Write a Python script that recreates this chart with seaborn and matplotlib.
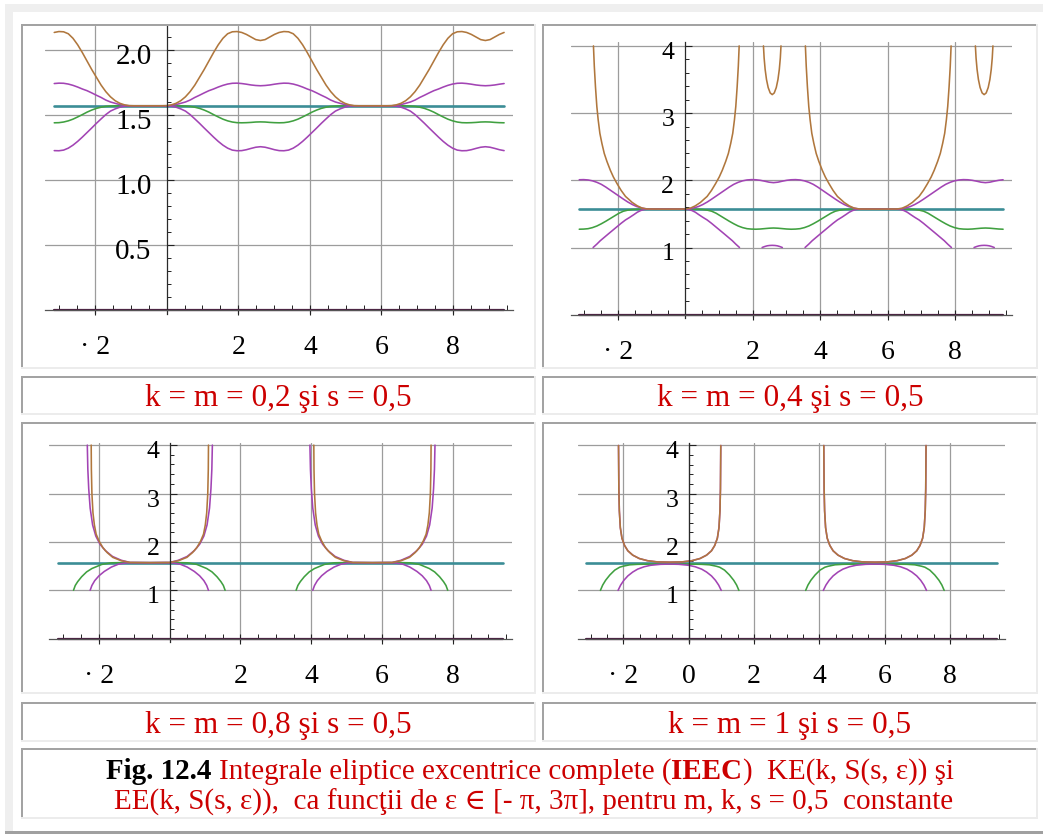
import numpy as np
import pandas as pd
import matplotlib
matplotlib.use("Agg")
import matplotlib.pyplot as plt
import seaborn as sns
from matplotlib.patches import Rectangle
from matplotlib.ticker import FixedLocator, MultipleLocator, NullFormatter
from matplotlib.transforms import ScaledTranslation

PI = np.pi
HALF_PI = PI / 2

# eps samples over one period [-pi, pi), step pi/24 (smooth curves)
EPS_GRID = -PI + np.arange(48) * PI / 24
LEVEL_X = [-PI, 3 * PI]

# ---------------- k = m = 0.2 ----------------
brown_02 = [2.135, 2.142, 2.14, 2.125, 2.09, 2.04, 1.98, 1.915, 1.85, 1.79,
            1.73, 1.68, 1.64, 1.61, 1.59, 1.578, 1.572, 1.571, 1.571, 1.571,
            1.571, 1.571, 1.571, 1.571, 1.572, 1.578, 1.59, 1.61, 1.64, 1.68,
            1.73, 1.79, 1.85, 1.915, 1.98, 2.04, 2.09, 2.125, 2.14, 2.142,
            2.135, 2.12, 2.10, 2.08, 2.073, 2.08, 2.10, 2.12]
violet_hi_02 = [1.742, 1.745, 1.744, 1.738, 1.728, 1.715, 1.70, 1.687, 1.67, 1.652,
                1.635, 1.615, 1.60, 1.59, 1.58, 1.574, 1.571, 1.571, 1.571, 1.571,
                1.571, 1.571, 1.571, 1.571, 1.571, 1.574, 1.58, 1.59, 1.60, 1.615,
                1.635, 1.652, 1.67, 1.687, 1.70, 1.715, 1.728, 1.738, 1.744, 1.745,
                1.742, 1.737, 1.731, 1.727, 1.725, 1.727, 1.731, 1.737]
green_02 = [1.44, 1.441, 1.446, 1.455, 1.468, 1.485, 1.503, 1.522, 1.538, 1.551,
            1.56, 1.566, 1.569, 1.571, 1.571, 1.571, 1.571, 1.571, 1.571, 1.571,
            1.571, 1.571, 1.571, 1.571, 1.571, 1.571, 1.571, 1.571, 1.569, 1.566,
            1.56, 1.551, 1.538, 1.522, 1.503, 1.485, 1.468, 1.455, 1.446, 1.441,
            1.44, 1.441, 1.443, 1.446, 1.447, 1.446, 1.443, 1.441]
violet_lo_02 = [1.226, 1.225, 1.23, 1.245, 1.268, 1.297, 1.33, 1.365, 1.40, 1.436,
                1.47, 1.503, 1.53, 1.547, 1.56, 1.568, 1.571, 1.571, 1.571, 1.571,
                1.571, 1.571, 1.571, 1.571, 1.571, 1.568, 1.56, 1.547, 1.53, 1.503,
                1.47, 1.436, 1.40, 1.365, 1.33, 1.297, 1.268, 1.245, 1.23, 1.225,
                1.226, 1.233, 1.243, 1.252, 1.256, 1.252, 1.243, 1.233]

# ---------------- k = m = 0.4 ----------------
brown_04_x = [[-2.72, -2.695, -2.66, -2.62, -2.58, -2.53, -2.47, -2.40, -2.32, -2.22,
               -2.13, -2.02, -1.90, -1.77, -1.68, -1.57, -1.42, -1.27, -1.12, -0.56,
               0.0, 0.15, 0.30, 0.45, 0.56, 0.65, 0.78, 0.90, 1.01, 1.10,
               1.20, 1.28, 1.35, 1.41, 1.46, 1.50, 1.54, 1.575, 1.60],
              [2.32, 2.34, 2.37, 2.41, 2.46, 2.52, 2.58, 2.64, 2.70, 2.75, 2.79, 2.82, 2.84]]
brown_04_y = [[4.0, 3.7, 3.39, 3.1, 2.9, 2.7, 2.55, 2.4, 2.28, 2.15,
               2.05, 1.95, 1.85, 1.76, 1.72, 1.67, 1.62, 1.585, 1.573, 1.571,
               1.573, 1.585, 1.62, 1.67, 1.72, 1.76, 1.85, 1.95, 2.05, 2.15,
               2.28, 2.4, 2.55, 2.7, 2.9, 3.1, 3.39, 3.7, 4.0],
              [4.0, 3.82, 3.65, 3.5, 3.38, 3.30, 3.275, 3.30, 3.38, 3.5, 3.65, 3.82, 4.0]]
violet_hi_04 = [2.008, 2.01, 2.005, 1.992, 1.97, 1.94, 1.90, 1.855, 1.81, 1.765,
                1.72, 1.677, 1.64, 1.61, 1.59, 1.577, 1.571, 1.571, 1.571, 1.571,
                1.571, 1.571, 1.571, 1.571, 1.571, 1.577, 1.59, 1.61, 1.64, 1.677,
                1.72, 1.765, 1.81, 1.855, 1.90, 1.94, 1.97, 1.992, 2.005, 2.01,
                2.008, 2.0, 1.987, 1.972, 1.965, 1.972, 1.987, 2.0]
green_04 = [1.272, 1.274, 1.28, 1.296, 1.32, 1.353, 1.39, 1.43, 1.47, 1.51,
            1.54, 1.556, 1.565, 1.569, 1.571, 1.571, 1.571, 1.571, 1.571, 1.571,
            1.571, 1.571, 1.571, 1.571, 1.571, 1.571, 1.571, 1.569, 1.565, 1.556,
            1.54, 1.51, 1.47, 1.43, 1.39, 1.353, 1.32, 1.296, 1.28, 1.274,
            1.272, 1.275, 1.281, 1.287, 1.29, 1.287, 1.281, 1.275]
violet_lo_04_x = [[-2.73, -2.62, -2.52, -2.39, -2.26, -2.14, -2.02, -1.90, -1.77, -1.64,
                   -1.52, -1.42, -1.32, -1.22, -1.12, -0.56, 0.0, 0.1, 0.2, 0.3,
                   0.4, 0.52, 0.65, 0.78, 0.9, 1.02, 1.14, 1.27, 1.4, 1.5, 1.61],
                  [2.28, 2.36, 2.43, 2.50, 2.58, 2.66, 2.73, 2.80, 2.88]]
violet_lo_04_y = [[1.0, 1.05, 1.10, 1.155, 1.21, 1.26, 1.31, 1.36, 1.41, 1.45,
                   1.49, 1.525, 1.55, 1.566, 1.571, 1.571, 1.571, 1.566, 1.55, 1.525,
                   1.49, 1.45, 1.41, 1.36, 1.31, 1.26, 1.21, 1.155, 1.10, 1.05, 1.0],
                  [1.0, 1.015, 1.025, 1.03, 1.032, 1.03, 1.025, 1.015, 1.0]]

# ---------------- k = m = 0.8 ----------------
brown_08_x = [[-2.21, -2.205, -2.19, -2.16, -2.12, -2.07, -1.99, -1.88, -1.76, -1.60, -1.36, -1.11,
               -0.555, 0.0, 0.25, 0.49, 0.65, 0.77, 0.88, 0.96, 1.01, 1.05, 1.08, 1.095, 1.10]]
brown_08_y = [[4.0, 3.5, 3.0, 2.6, 2.35, 2.16, 2.02, 1.88, 1.78, 1.68, 1.61, 1.575,
               1.571, 1.575, 1.61, 1.68, 1.78, 1.88, 2.02, 2.16, 2.35, 2.6, 3.0, 3.5, 4.0]]
violet_hi_08_x = [[-2.32, -2.305, -2.28, -2.24, -2.17, -2.08, -1.96, -1.81, -1.61, -1.36, -1.11,
                   -0.555, 0.0, 0.25, 0.5, 0.7, 0.85, 0.97, 1.06, 1.13, 1.17, 1.195, 1.21]]
violet_hi_08_y = [[4.0, 3.5, 3.1, 2.7, 2.35, 2.12, 1.95, 1.82, 1.70, 1.62, 1.575,
                   1.571, 1.575, 1.62, 1.70, 1.82, 1.95, 2.12, 2.35, 2.7, 3.1, 3.5, 4.0]]
green_08_x = [[-2.71, -2.66, -2.59, -2.48, -2.34, -2.19, -1.91, -1.64, -1.44, -0.57,
               0.3, 0.5, 0.77, 1.05, 1.2, 1.34, 1.45, 1.52, 1.57]]
green_08_y = [[1.0, 1.10, 1.18, 1.28, 1.38, 1.45, 1.535, 1.568, 1.571, 1.571,
               1.571, 1.568, 1.535, 1.45, 1.38, 1.28, 1.18, 1.10, 1.0]]
violet_lo_08_x = [[-2.24, -2.19, -2.11, -1.99, -1.84, -1.64, -1.44, -1.24, -1.04, -0.57,
                   -0.1, 0.1, 0.3, 0.5, 0.7, 0.85, 0.97, 1.05, 1.10]]
violet_lo_08_y = [[1.0, 1.1, 1.2, 1.30, 1.39, 1.48, 1.54, 1.565, 1.571, 1.571,
                   1.571, 1.565, 1.54, 1.48, 1.39, 1.30, 1.2, 1.1, 1.0]]

# ---------------- k = m = 1 ----------------
brown_10_x = [[-2.145, -2.135, -2.12, -2.09, -2.04, -1.96, -1.86, -1.71, -1.51, -1.26, -0.96, -0.58,
               -0.2, 0.1, 0.35, 0.55, 0.7, 0.8, 0.88, 0.93, 0.96, 0.975, 0.985]]
brown_10_y = [[4.0, 3.1, 2.65, 2.3, 2.08, 1.93, 1.82, 1.73, 1.66, 1.615, 1.59, 1.585,
               1.59, 1.615, 1.66, 1.73, 1.82, 1.93, 2.08, 2.3, 2.65, 3.1, 4.0]]
green_10_x = [[-2.70, -2.63, -2.54, -2.41, -2.26, -2.11, -2.01, -1.80, -1.56, -1.16, -0.58,
               0.0, 0.4, 0.64, 0.85, 0.95, 1.1, 1.25, 1.38, 1.47, 1.54]]
green_10_y = [[1.0, 1.11, 1.21, 1.32, 1.42, 1.48, 1.50, 1.53, 1.54, 1.545, 1.545,
               1.545, 1.54, 1.53, 1.50, 1.48, 1.42, 1.32, 1.21, 1.11, 1.0]]
violet_lo_10_x = [[-2.16, -2.08, -1.98, -1.86, -1.71, -1.56, -1.36, -1.16, -0.86, -0.58,
                   -0.3, 0.0, 0.2, 0.4, 0.55, 0.7, 0.82, 0.92, 1.0]]
violet_lo_10_y = [[1.0, 1.11, 1.21, 1.30, 1.38, 1.44, 1.49, 1.52, 1.54, 1.545,
                   1.54, 1.52, 1.49, 1.44, 1.38, 1.30, 1.21, 1.11, 1.0]]

captions = ["k = m = 0,2 şi s = 0,5", "k = m = 0,4 şi s = 0,5",
            "k = m = 0,8 şi s = 0,5", "k = m = 1 şi s = 0,5"]
x_ticks = [-2, 2, 4, 6, 8]
x_tick_text = ["· 2", "2", "4", "6", "8"]
x_ticks_b = [-2, 0, 2, 4, 6, 8]
x_tick_text_b = ["· 2", "0", "2", "4", "6", "8"]
y_ticks_a = [0.5, 1.0, 1.5, 2.0]
y_tick_text_a = ["0.5", "1.0", "1.5", "2.0"]
y_ticks_b = [1, 2, 3, 4]
y_tick_text_b = ["1", "2", "3", "4"]

BROWN = "#b0773d"
VIOLET = "#a244b4"
GREEN = "#40a040"
TEAL = "#3b8d96"
DARK = "#4a2041"
RED = "#cc0000"
SERIF = ["Liberation Serif", "DejaVu Serif"]

W, H = 1043, 834


def closed_curve(vals):
    v = np.asarray(vals, float)
    x = np.concatenate([EPS_GRID, EPS_GRID + 2 * PI, [3 * PI]])
    y = np.concatenate([v, v, v[:1]])
    return pd.DataFrame({"eps": x, "val": y, "seg": 0})


def open_curve(xs_list, ys_list):
    frames, seg = [], 0
    for period in range(2):
        for xs, ys in zip(xs_list, ys_list):
            frames.append(pd.DataFrame({"eps": np.asarray(xs) + 2 * PI * period,
                                        "val": ys, "seg": seg}))
            seg += 1
    return pd.concat(frames, ignore_index=True)


def level(value):
    return pd.DataFrame({"eps": LEVEL_X, "val": [value, value], "seg": 0})


sns.set_style("white")
plt.rcParams["font.family"] = SERIF

fig = plt.figure(figsize=(W / 100, H / 100), dpi=100)
fig.patch.set_facecolor("white")


def px_rect(x0, y0, x1, y1, color):
    fig.add_artist(Rectangle((x0 / W, 1 - y1 / H), (x1 - x0) / W, (y1 - y0) / H,
                             transform=fig.transFigure, facecolor=color,
                             edgecolor="none", zorder=1))


def cell(x0, y0, x1, y1):
    px_rect(x0, y0, x1, y0 + 2, "#a3a3a3")
    px_rect(x0, y0, x0 + 2, y1, "#a3a3a3")
    px_rect(x0, y1 - 2, x1, y1, "#ececec")
    px_rect(x1 - 2, y0, x1, y1, "#ececec")


# page background bands and table cells
px_rect(5, 4, W, 12, "#efefef")
px_rect(5, 4, 13, 831, "#efefef")
px_rect(5, 831, W, H, "#a0a0a0")
for (x0, x1) in [(21, 536), (542, 1038)]:
    cell(x0, 24, x1, 369)
    cell(x0, 376, x1, 415)
    cell(x0, 422, x1, 694)
    cell(x0, 702, x1, 742)
cell(21, 748, 1038, 819)

XLIM = (-3.40, 9.68)

panels = [
    dict(x0px=166.7, unit=35.8, y0px=310.0, yunit=130.0, ylim=(-0.03, 2.185),
         yt=y_ticks_a, ytt=y_tick_text_a, yminor=0.1, ysize=21, ygap=15,
         xt=x_ticks, xtt=x_tick_text,
         curves=[(level(HALF_PI), TEAL, 1.9),
                 (closed_curve(green_02), GREEN, 1.15),
                 (closed_curve(violet_lo_02), VIOLET, 1.15),
                 (closed_curve(violet_hi_02), VIOLET, 1.15),
                 (closed_curve(brown_02), BROWN, 1.15),
                 (level(0.0), DARK, 1.6)]),
    dict(x0px=685.2, unit=33.73, y0px=314.7, yunit=67.2, ylim=(-0.05, 4.06),
         yt=y_ticks_b, ytt=y_tick_text_b, yminor=0.2, ysize=18.5, ygap=11,
         xt=x_ticks, xtt=x_tick_text,
         curves=[(level(HALF_PI), TEAL, 1.9),
                 (closed_curve(green_04), GREEN, 1.15),
                 (open_curve(violet_lo_04_x, violet_lo_04_y), VIOLET, 1.15),
                 (closed_curve(violet_hi_04), VIOLET, 1.15),
                 (open_curve(brown_04_x, brown_04_y), BROWN, 1.15),
                 (level(0.0), DARK, 1.6)]),
    dict(x0px=169.5, unit=35.43, y0px=638.7, yunit=48.4, ylim=(-0.06, 4.05),
         yt=y_ticks_b, ytt=y_tick_text_b, yminor=0.2, ysize=18.5, ygap=10,
         xt=x_ticks, xtt=x_tick_text,
         curves=[(level(HALF_PI), TEAL, 1.9),
                 (open_curve(green_08_x, green_08_y), GREEN, 1.15),
                 (open_curve(violet_lo_08_x, violet_lo_08_y), VIOLET, 1.15),
                 (open_curve(violet_hi_08_x, violet_hi_08_y), VIOLET, 1.15),
                 (open_curve(brown_08_x, brown_08_y), BROWN, 1.15),
                 (level(0.0), DARK, 1.6)]),
    dict(x0px=688.6, unit=32.67, y0px=638.7, yunit=48.3, ylim=(-0.06, 4.05),
         yt=y_ticks_b, ytt=y_tick_text_b, yminor=0.2, ysize=18.5, ygap=10,
         xt=x_ticks_b, xtt=x_tick_text_b,
         curves=[(level(HALF_PI), TEAL, 1.9),
                 (open_curve(green_10_x, green_10_y), GREEN, 1.15),
                 (open_curve(violet_lo_10_x, violet_lo_10_y), VIOLET, 1.15),
                 (open_curve(brown_10_x, brown_10_y), VIOLET, 1.15),
                 (open_curve(brown_10_x, brown_10_y), BROWN, 1.15),
                 (level(0.0), DARK, 1.6)]),
]

for p in panels:
    left = p["x0px"] + XLIM[0] * p["unit"]
    right = p["x0px"] + XLIM[1] * p["unit"]
    top = p["y0px"] - p["ylim"][1] * p["yunit"]
    bottom = p["y0px"] - p["ylim"][0] * p["yunit"]
    ax = fig.add_axes([left / W, 1 - bottom / H, (right - left) / W, (bottom - top) / H])
    ax.set_facecolor("none")

    for df, color, lw in p["curves"]:
        sns.lineplot(data=df, x="eps", y="val", units="seg", estimator=None, sort=False,
                     color=color, linewidth=lw, ax=ax, legend=False)

    ax.set_xlim(*XLIM)
    ax.set_ylim(*p["ylim"])
    ax.set_xlabel("")
    ax.set_ylabel("")

    for side in ("top", "right"):
        ax.spines[side].set_visible(False)
    ax.spines["left"].set_position(("data", 0))
    ax.spines["bottom"].set_position(("data", 0))
    ax.spines["left"].set_color("#2a2a2a")
    ax.spines["bottom"].set_color("#555555")
    ax.spines["left"].set_linewidth(0.9)
    ax.spines["bottom"].set_linewidth(0.9)

    ax.xaxis.set_major_locator(FixedLocator(p["xt"]))
    ax.xaxis.set_minor_locator(MultipleLocator(0.5))
    ax.yaxis.set_major_locator(FixedLocator(p["yt"]))
    ax.yaxis.set_minor_locator(MultipleLocator(p["yminor"]))
    ax.xaxis.set_major_formatter(NullFormatter())
    ax.yaxis.set_major_formatter(NullFormatter())
    ax.tick_params(axis="x", which="major", direction="inout", length=7, width=0.8,
                   color="#222222", bottom=True)
    ax.tick_params(axis="x", which="minor", direction="in", length=3.5, width=0.7,
                   color="#222222", bottom=True)
    ax.tick_params(axis="y", which="major", direction="in", length=5, width=0.8,
                   color="#222222", left=True)
    ax.tick_params(axis="y", which="minor", direction="in", length=3, width=0.7,
                   color="#222222", left=True)
    ax.grid(True, which="major", color="#9c9c9c", linewidth=0.9)
    ax.set_axisbelow(True)

    # tick labels
    for v, s in zip(p["xt"], p["xtt"]):
        ax.text(v, 0, s, ha="center", va="top", fontsize=20, color="black",
                transform=ax.transData + ScaledTranslation(0, -25 / 100, fig.dpi_scale_trans))
    for v, s in zip(p["yt"], p["ytt"]):
        ax.text(0, v, s, ha="right", va="center", fontsize=p["ysize"], color="black",
                transform=ax.transData + ScaledTranslation(-p["ygap"] / 100, -7 / 100,
                                                           fig.dpi_scale_trans))

# panel captions
for (cx, base), txt in zip([(278, 406), (790, 406), (278, 733), (790, 733)], captions):
    fig.text(cx / W, 1 - base / H, txt, ha="center", va="baseline", fontsize=22.5, color=RED)

# figure caption (mixed styles on the first line)
renderer = fig.canvas.get_renderer()
CAP1_SIZE = 20.9
CAP2_SIZE = 21
space_px = 0.25 * CAP1_SIZE * 100 / 72
line1 = [("Fig. 12.4", "black", "bold"), 1,
         ("Integrale eliptice excentrice complete (", RED, "normal"),
         ("IEEC", RED, "bold"), (")", RED, "normal"), 2,
         ("KE(k, S(s, ε)) şi", RED, "normal")]
items, total = [], 0.0
for piece in line1:
    if isinstance(piece, int):
        items.append((None, piece * space_px))
        total += piece * space_px
        continue
    s, col, wt = piece
    t = fig.text(0, 1 - 779 / H, s, color=col, fontweight=wt, fontsize=CAP1_SIZE,
                 ha="left", va="baseline")
    w = t.get_window_extent(renderer=renderer).width
    items.append((t, w))
    total += w
xpos = 530 - total / 2
for t, w in items:
    if t is not None:
        t.set_x(xpos / W)
    xpos += w
fig.text(534 / W, 1 - 810 / H,
         "EE(k, S(s, ε)),  ca funcţii de ε ∈ [- π, 3π], pentru m, k, s = 0,5  constante",
         ha="center", va="baseline", fontsize=CAP2_SIZE, color=RED)

fig.savefig("out.png", dpi=100, facecolor="white")
